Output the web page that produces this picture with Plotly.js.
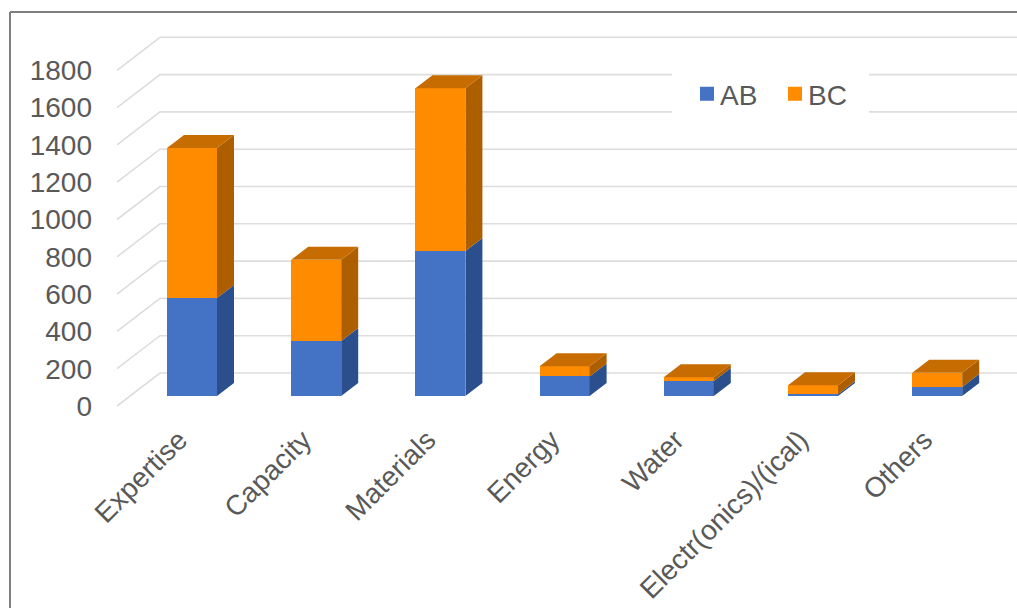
<!DOCTYPE html>
<html>
<head>
<meta charset="utf-8">
<script src="https://cdn.plot.ly/plotly-3.0.1.min.js"></script>
<style>html,body{margin:0;padding:0;background:#fff;overflow:hidden}#chart{width:1017px;height:608px}</style>
</head>
<body>
<div id="chart"></div>
<script>
const categories = ["Expertise","Capacity","Materials","Energy","Water","Electr(onics)/(ical)","Others"];
const AB = [525, 295, 777, 105, 80, 10, 48];
const BC = [805, 435, 873, 55, 20, 48, 77];
const yTicks = [0,200,400,600,800,1000,1200,1400,1600,1800];

const W = 1017, H = 608;
const plotL = 96, plotB = 416;
const pxPerCat = 124.2, firstCatPx = 192;
const pxPerUnit = 0.1865, axisZeroPx = 406, barZeroPx = 396;

const xOf = px => (px - firstCatPx) / pxPerCat;
const xRange = [xOf(plotL), xOf(W)];
const yRange = [-(plotB - axisZeroPx) / pxPerUnit, axisZeroPx / pxPerUnit];
const barShift = (axisZeroPx - barZeroPx) / pxPerUnit;
const y2Range = [yRange[0] - barShift, yRange[1] - barShift];

const barW = 50 / pxPerCat, depthX = 17 / pxPerCat, depthY = 13 / pxPerUnit;
const wallX0 = xOf(117), wallX1 = xOf(160), wallDY = 33 / pxPerUnit;

const colors = {ab:"#4472C4", abSide:"#2B4F8C", bc:"#FF8B00", bcSide:"#AD5F00", bcTop:"#C76C00", grid:"#DDDDDD", text:"#595959"};

const gx = [], gy = [];
yTicks.forEach(v => {
  gx.push(wallX0, wallX1, xRange[1], null);
  gy.push(v, v + wallDY, v + wallDY, null);
});

function faces(bases, tops) {
  const x = [], y = [];
  categories.forEach((_, i) => {
    const r = i + barW / 2;
    x.push(r, r + depthX, r + depthX, r, r, null);
    y.push(bases[i], bases[i] + depthY, tops[i] + depthY, tops[i], bases[i], null);
  });
  return {x, y};
}
const totals = AB.map((v, i) => v + BC[i]);
const abSide = faces(AB.map(() => 0), AB);
const bcSide = faces(AB, totals);
const topX = [], topY = [];
categories.forEach((_, i) => {
  const l = i - barW / 2, r = i + barW / 2;
  topX.push(l, l + depthX, r + depthX, r, l, null);
  topY.push(totals[i], totals[i] + depthY, totals[i] + depthY, totals[i], totals[i], null);
});
const poly = (p, color) => ({type:"scatter", mode:"lines", x:p.x, y:p.y, xaxis:"x", yaxis:"y2", fill:"toself", fillcolor:color, line:{width:0, color:color}, showlegend:false, hoverinfo:"skip"});
const xs = categories.map((_, i) => i);
const legendKey = (name, color) => ({type:"bar", name:name, x:[null], y:[null], xaxis:"x", yaxis:"y2", marker:{color:color, line:{color:color, width:2}}, showlegend:true});

const data = [
  {type:"scatter", mode:"lines", x:gx, y:gy, xaxis:"x", yaxis:"y", line:{color:colors.grid, width:1.6}, showlegend:false, hoverinfo:"skip", connectgaps:false},
  {type:"bar", name:"AB", x:xs, y:AB, width:barW, xaxis:"x", yaxis:"y2", marker:{color:colors.ab}, showlegend:false},
  {type:"bar", name:"BC", x:xs, y:BC, width:barW, xaxis:"x", yaxis:"y2", marker:{color:colors.bc}, showlegend:false},
  legendKey("AB", colors.ab),
  legendKey("BC", colors.bc),
  poly(abSide, colors.abSide),
  poly(bcSide, colors.bcSide),
  poly({x:topX, y:topY}, colors.bcTop)
];

const plotW = W - plotL, paperX = px => (px - plotL) / plotW, paperY = py => 1 - py / plotB;
const layout = {
  width:W, height:H, margin:{l:plotL, r:0, t:0, b:H - plotB, pad:0},
  paper_bgcolor:"#FFFFFF", plot_bgcolor:"rgba(0,0,0,0)",
  font:{family:"Liberation Sans, Arial, sans-serif", size:28, color:colors.text},
  barmode:"stack", bargap:0,
  xaxis:{range:xRange, tickmode:"array", tickvals:xs, ticktext:categories, tickangle:-45, showgrid:false, zeroline:false, showline:false, ticks:"", automargin:false, ticklabelshift:-13, ticklabelstandoff:1, tickfont:{size:28, color:colors.text}},
  yaxis:{range:yRange, tickmode:"array", tickvals:yTicks, showgrid:false, zeroline:false, showline:false, ticks:"", automargin:false, ticklabelstandoff:3, tickfont:{size:28, color:colors.text}},
  yaxis2:{range:y2Range, overlaying:"y", side:"left", visible:false, showgrid:false, zeroline:false},
  legend:{orientation:"h", x:paperX(687), y:paperY(69), xanchor:"left", yanchor:"top", bgcolor:"rgba(0,0,0,0)", borderwidth:0, font:{size:28, color:colors.text}, entrywidth:43, entrywidthmode:"pixels", itemwidth:30, traceorder:"normal"},
  shapes:[
    {type:"rect", layer:"above", xref:"paper", yref:"paper", x0:paperX(672), x1:paperX(869), y0:paperY(68), y1:paperY(116), fillcolor:"#FFFFFF", line:{width:0}},
    {type:"line", xref:"paper", yref:"paper", x0:paperX(10), x1:paperX(10), y0:paperY(12), y1:paperY(H), line:{color:"#7F7F7F", width:2}},
    {type:"line", xref:"paper", yref:"paper", x0:paperX(10), x1:paperX(W), y0:paperY(12), y1:paperY(12), line:{color:"#7F7F7F", width:2}}
  ],
  showlegend:true, hovermode:false
};
Plotly.newPlot("chart", data, layout, {displayModeBar:false, staticPlot:true}).then(gd => {
  gd.querySelectorAll(".legendtext").forEach(t => {
    t.setAttribute("x", parseFloat(t.getAttribute("x")) - 7);
  });
});
</script>
</body>
</html>
